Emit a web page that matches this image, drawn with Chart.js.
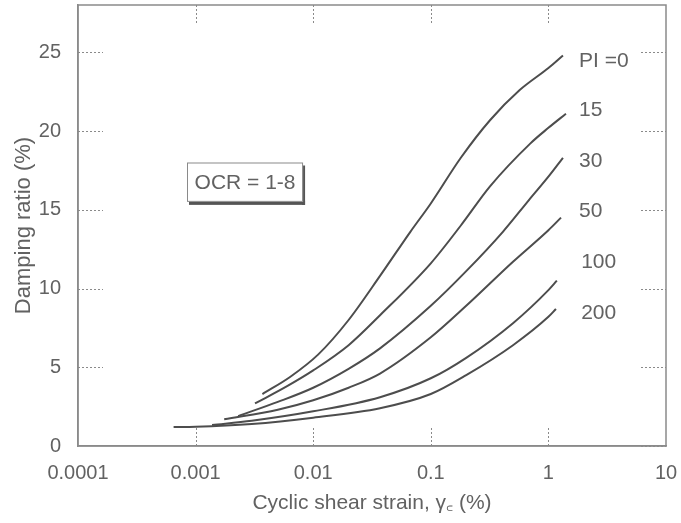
<!DOCTYPE html>
<html>
<head>
<meta charset="utf-8">
<script src="https://cdn.jsdelivr.net/npm/chart.js@4.4.1/dist/chart.umd.min.js"></script>
<style>
  html, body { margin: 0; padding: 0; background: #ffffff; }
  canvas { display: block; }
</style>
</head>
<body>
<canvas id="c" width="681" height="523"></canvas>
<script>
// ---- data ----
const xTicks = [0.0001, 0.001, 0.01, 0.1, 1, 10];
const xTickLabels = ['0.0001', '0.001', '0.01', '0.1', '1', '10'];
const yTicks = [0, 5, 10, 15, 20, 25];

const curveNames = ['PI =0', '15', '30', '50', '100', '200'];

const pi0_x   = [0.0037, 0.0064, 0.011, 0.02, 0.037, 0.067, 0.1, 0.18, 0.32, 0.57, 1.0, 1.33];
const pi0_y   = [3.3, 4.4, 5.8, 8.0, 10.8, 13.6, 15.4, 18.3, 20.7, 22.6, 24.0, 24.8];

const pi15_x  = [0.0032, 0.006, 0.01, 0.02, 0.037, 0.1, 0.18, 0.32, 0.7, 1.0, 1.41];
const pi15_y  = [2.7, 3.8, 4.8, 6.4, 8.3, 11.6, 14.0, 16.5, 19.2, 20.2, 21.1];

const pi30_x  = [0.0023, 0.005, 0.01, 0.02, 0.037, 0.1, 0.2, 0.41, 0.68, 1.0, 1.33];
const pi30_y  = [1.9, 2.8, 3.7, 4.9, 6.2, 8.9, 11.1, 13.6, 15.6, 17.1, 18.3];

const pi50_x  = [0.00175, 0.005, 0.01, 0.02, 0.037, 0.1, 0.2, 0.5, 1.0, 1.28];
const pi50_y  = [1.7, 2.3, 2.9, 3.7, 4.6, 6.9, 8.9, 11.7, 13.7, 14.5];

const pi100_x = [0.00138, 0.003, 0.01, 0.037, 0.1, 0.2, 0.5, 1.0, 1.18];
const pi100_y = [1.33, 1.6, 2.2, 3.1, 4.3, 5.6, 7.8, 9.9, 10.5];

const pi200_x = [0.00065, 0.001, 0.003, 0.01, 0.037, 0.1, 0.2, 0.5, 1.0, 1.16];
const pi200_y = [1.2, 1.22, 1.4, 1.8, 2.4, 3.3, 4.5, 6.4, 8.2, 8.7];

// curve label anchors (data coords: left edge x, centre y)
const labelX = [1.82, 1.82, 1.82, 1.82, 1.9, 1.9];
const labelY = [24.4, 21.3, 18.1, 14.9, 11.7, 8.4];

const ocrText = 'OCR = 1-8';

// ---- build datasets ----
function pts(xs, ys) { return xs.map((x, i) => ({ x: x, y: ys[i] })); }
const series = [
  pts(pi0_x, pi0_y), pts(pi15_x, pi15_y), pts(pi30_x, pi30_y),
  pts(pi50_x, pi50_y), pts(pi100_x, pi100_y), pts(pi200_x, pi200_y)
];

const TEXT = '#626262';
const LINE = '#4d4d4d';
const AXIS = '#8a8a8a';
const FONT = "'Liberation Sans', Arial, sans-serif";

const decorPlugin = {
  id: 'decor',
  beforeDatasetsDraw(chart) {
    const { ctx, chartArea: a, scales: { x, y } } = chart;
    ctx.save();
    ctx.strokeStyle = AXIS;
    ctx.lineWidth = 1;
    ctx.setLineDash([2, 2]);
    xTicks.slice(1, -1).forEach(v => {
      const px = Math.round(x.getPixelForValue(v)) + 0.5;
      ctx.beginPath(); ctx.moveTo(px, a.bottom); ctx.lineTo(px, a.bottom - 19); ctx.stroke();
      ctx.beginPath(); ctx.moveTo(px, a.top); ctx.lineTo(px, a.top + 20); ctx.stroke();
    });
    yTicks.forEach(v => {
      const py = Math.round(y.getPixelForValue(v)) + 0.5;
      if (v !== 0) {
        ctx.beginPath(); ctx.moveTo(a.left, py); ctx.lineTo(a.left + 25, py); ctx.stroke();
      }
      ctx.beginPath(); ctx.moveTo(a.right - 25, py); ctx.lineTo(a.right, py); ctx.stroke();
    });
    ctx.setLineDash([]);
    ctx.restore();
  },
  afterDatasetsDraw(chart) {
    const { ctx, chartArea: a, scales: { x, y } } = chart;
    ctx.save();
    ctx.strokeStyle = AXIS;
    ctx.lineWidth = 1.5;
    ctx.strokeRect(a.left, a.top, a.right - a.left, a.bottom - a.top);

    // OCR box
    const bx0 = x.getPixelForValue(0.000845), bx1 = x.getPixelForValue(0.0082);
    const by0 = y.getPixelForValue(18.0), by1 = y.getPixelForValue(15.5);
    ctx.fillStyle = '#555555';
    ctx.fillRect(bx0 + 2, by1 - 1, bx1 - bx0, 4);
    ctx.fillRect(bx1 - 1, by0 + 3, 3, by1 - by0);
    ctx.fillStyle = '#ffffff';
    ctx.fillRect(bx0, by0, bx1 - bx0, by1 - by0);
    ctx.strokeStyle = '#8a8a8a';
    ctx.lineWidth = 1;
    ctx.strokeRect(bx0 + 0.5, by0 + 0.5, bx1 - bx0 - 1, by1 - by0 - 1);
    ctx.fillStyle = TEXT;
    ctx.font = "21px " + FONT;
    ctx.textAlign = 'center';
    ctx.textBaseline = 'middle';
    ctx.fillText(ocrText, (bx0 + bx1) / 2, (by0 + by1) / 2 + 1);

    // curve labels
    ctx.textAlign = 'left';
    ctx.font = "21px " + FONT;
    curveNames.forEach((t, i) => {
      ctx.fillText(t, x.getPixelForValue(labelX[i]), y.getPixelForValue(labelY[i]));
    });
    ctx.restore();
  }
};

new Chart(document.getElementById('c'), {
  type: 'line',
  data: {
    datasets: series.map((d, i) => ({
      label: curveNames[i],
      data: d,
      borderColor: LINE,
      borderWidth: 2,
      pointRadius: 0,
      fill: false,
      cubicInterpolationMode: 'monotone'
    }))
  },
  options: {
    responsive: false,
    animation: false,
    devicePixelRatio: 1,
    layout: { padding: { top: 5, right: 15, left: 0, bottom: 0 } },
    plugins: { legend: { display: false }, tooltip: { enabled: false } },
    scales: {
      x: {
        type: 'logarithmic',
        min: 0.0001, max: 10,
        afterBuildTicks(s) { s.ticks = xTicks.map(v => ({ value: v })); },
        afterFit(s) { s.height = 77; s.paddingLeft = 0; s.paddingRight = 0; },
        grid: { display: false, drawTicks: false },
        border: { display: true, color: AXIS, width: 1.5 },
        ticks: {
          color: TEXT, padding: 15, maxRotation: 0, autoSkip: false,
          font: { family: FONT, size: 20 },
          callback(v) { const i = xTicks.indexOf(v); return i >= 0 ? xTickLabels[i] : ''; }
        },
        title: {
          display: true, text: 'Cyclic shear strain, γ꜀ (%)',
          color: TEXT, font: { family: FONT, size: 21 }, padding: { top: 8, bottom: 7 }
        }
      },
      y: {
        type: 'linear',
        min: 0, max: 28,
        afterBuildTicks(s) { s.ticks = yTicks.map(v => ({ value: v })); },
        afterFit(s) { s.width = 78; s.paddingTop = 0; s.paddingBottom = 0; },
        grid: { display: false, drawTicks: false },
        border: { display: true, color: AXIS, width: 1.5 },
        ticks: { color: TEXT, padding: 17, font: { family: FONT, size: 20 } },
        title: {
          display: true, text: 'Damping ratio (%)',
          color: TEXT, font: { family: FONT, size: 22 }, padding: { top: 11, bottom: 11 }
        }
      }
    }
  },
  plugins: [decorPlugin]
});
</script>
</body>
</html>
